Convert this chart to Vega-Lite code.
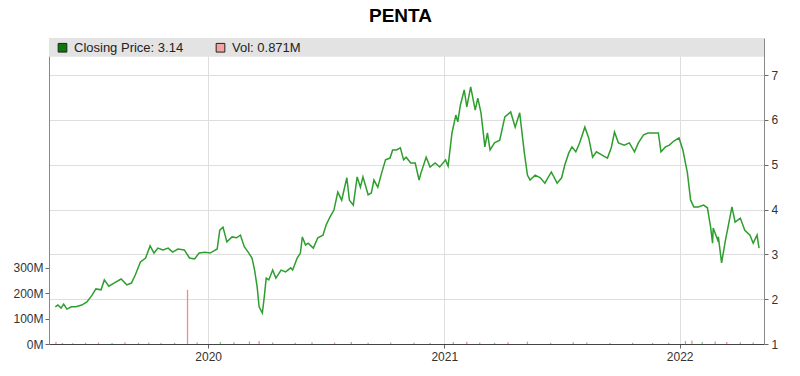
{
  "$schema": "https://vega.github.io/schema/vega-lite/v6.json",
  "width": 715,
  "height": 306,
  "autosize": {"type": "none"},
  "padding": {"left": 49, "top": 38, "right": 36, "bottom": 32},
  "background": "white",
  "title": {"text": "PENTA", "font": "Liberation Sans", "fontSize": 19, "fontWeight": "bold", "color": "#000", "anchor": "middle", "frame": "group", "offset": 12, "dx": -6},
  "config": {
    "view": {"stroke": null},
    "axis": {"labelFont": "Liberation Sans", "labelFontSize": 12, "labelColor": "#333", "domainColor": "#666", "tickColor": "#666", "tickSize": 4, "gridColor": "#dedede", "gridWidth": 1, "title": null}
  },
  "datasets": {
    "price": [
      {"date": "2019-05-09", "close": 1.83}, {"date": "2019-05-13", "close": 1.87}, {"date": "2019-05-18", "close": 1.80}, {"date": "2019-05-22", "close": 1.89}, {"date": "2019-05-27", "close": 1.78},
      {"date": "2019-06-03", "close": 1.83}, {"date": "2019-06-10", "close": 1.83}, {"date": "2019-06-19", "close": 1.87}, {"date": "2019-06-27", "close": 1.94}, {"date": "2019-07-05", "close": 2.09},
      {"date": "2019-07-11", "close": 2.23}, {"date": "2019-07-19", "close": 2.21}, {"date": "2019-07-24", "close": 2.43}, {"date": "2019-07-31", "close": 2.29}, {"date": "2019-08-08", "close": 2.36},
      {"date": "2019-08-19", "close": 2.45}, {"date": "2019-08-28", "close": 2.32}, {"date": "2019-09-04", "close": 2.36}, {"date": "2019-09-10", "close": 2.54}, {"date": "2019-09-18", "close": 2.83},
      {"date": "2019-09-26", "close": 2.92}, {"date": "2019-10-03", "close": 3.19}, {"date": "2019-10-09", "close": 3.03}, {"date": "2019-10-15", "close": 3.14}, {"date": "2019-10-23", "close": 3.10},
      {"date": "2019-10-31", "close": 3.14}, {"date": "2019-11-07", "close": 3.05}, {"date": "2019-11-15", "close": 3.12}, {"date": "2019-11-25", "close": 3.10}, {"date": "2019-12-03", "close": 2.92},
      {"date": "2019-12-11", "close": 2.90}, {"date": "2019-12-18", "close": 3.03}, {"date": "2019-12-27", "close": 3.05}, {"date": "2020-01-04", "close": 3.03}, {"date": "2020-01-15", "close": 3.12},
      {"date": "2020-01-19", "close": 3.54}, {"date": "2020-01-24", "close": 3.61}, {"date": "2020-01-30", "close": 3.28}, {"date": "2020-02-07", "close": 3.39}, {"date": "2020-02-14", "close": 3.37},
      {"date": "2020-02-20", "close": 3.43}, {"date": "2020-02-26", "close": 3.17}, {"date": "2020-03-03", "close": 3.05}, {"date": "2020-03-09", "close": 2.92}, {"date": "2020-03-13", "close": 2.65},
      {"date": "2020-03-17", "close": 2.27}, {"date": "2020-03-20", "close": 1.83}, {"date": "2020-03-25", "close": 1.69}, {"date": "2020-03-28", "close": 2.05}, {"date": "2020-03-31", "close": 2.47},
      {"date": "2020-04-04", "close": 2.43}, {"date": "2020-04-10", "close": 2.65}, {"date": "2020-04-15", "close": 2.47}, {"date": "2020-04-23", "close": 2.65}, {"date": "2020-04-30", "close": 2.61},
      {"date": "2020-05-08", "close": 2.70}, {"date": "2020-05-11", "close": 2.65}, {"date": "2020-05-18", "close": 2.92}, {"date": "2020-05-23", "close": 3.03}, {"date": "2020-05-26", "close": 3.39},
      {"date": "2020-05-31", "close": 3.21}, {"date": "2020-06-04", "close": 3.25}, {"date": "2020-06-12", "close": 3.14}, {"date": "2020-06-19", "close": 3.37}, {"date": "2020-06-27", "close": 3.43},
      {"date": "2020-07-02", "close": 3.66}, {"date": "2020-07-08", "close": 3.84}, {"date": "2020-07-14", "close": 3.99}, {"date": "2020-07-20", "close": 4.39}, {"date": "2020-07-26", "close": 4.21},
      {"date": "2020-08-03", "close": 4.71}, {"date": "2020-08-07", "close": 4.21}, {"date": "2020-08-13", "close": 4.10}, {"date": "2020-08-19", "close": 4.73}, {"date": "2020-08-24", "close": 4.50},
      {"date": "2020-08-28", "close": 4.73}, {"date": "2020-09-05", "close": 4.33}, {"date": "2020-09-10", "close": 4.37}, {"date": "2020-09-14", "close": 4.66}, {"date": "2020-09-20", "close": 4.50},
      {"date": "2020-09-26", "close": 4.82}, {"date": "2020-10-02", "close": 5.11}, {"date": "2020-10-09", "close": 5.15}, {"date": "2020-10-13", "close": 5.33}, {"date": "2020-10-19", "close": 5.33},
      {"date": "2020-10-25", "close": 5.38}, {"date": "2020-10-30", "close": 5.11}, {"date": "2020-11-03", "close": 5.17}, {"date": "2020-11-10", "close": 5.04}, {"date": "2020-11-17", "close": 5.04},
      {"date": "2020-11-23", "close": 4.66}, {"date": "2020-11-26", "close": 4.82}, {"date": "2020-12-04", "close": 5.17}, {"date": "2020-12-10", "close": 4.95}, {"date": "2020-12-18", "close": 5.04},
      {"date": "2020-12-25", "close": 4.95}, {"date": "2021-01-03", "close": 5.11}, {"date": "2021-01-07", "close": 4.97}, {"date": "2021-01-13", "close": 5.71}, {"date": "2021-01-19", "close": 6.11},
      {"date": "2021-01-22", "close": 5.96}, {"date": "2021-01-26", "close": 6.33}, {"date": "2021-02-01", "close": 6.67}, {"date": "2021-02-05", "close": 6.29}, {"date": "2021-02-11", "close": 6.74},
      {"date": "2021-02-18", "close": 6.22}, {"date": "2021-02-22", "close": 6.49}, {"date": "2021-02-27", "close": 6.16}, {"date": "2021-03-05", "close": 5.40}, {"date": "2021-03-09", "close": 5.71},
      {"date": "2021-03-13", "close": 5.33}, {"date": "2021-03-20", "close": 5.49}, {"date": "2021-03-28", "close": 5.55}, {"date": "2021-04-05", "close": 6.07}, {"date": "2021-04-14", "close": 6.18},
      {"date": "2021-04-21", "close": 5.84}, {"date": "2021-04-28", "close": 6.16}, {"date": "2021-05-05", "close": 5.29}, {"date": "2021-05-10", "close": 4.77}, {"date": "2021-05-14", "close": 4.66},
      {"date": "2021-05-22", "close": 4.77}, {"date": "2021-05-30", "close": 4.71}, {"date": "2021-06-06", "close": 4.59}, {"date": "2021-06-16", "close": 4.84}, {"date": "2021-06-25", "close": 4.59},
      {"date": "2021-07-02", "close": 4.71}, {"date": "2021-07-07", "close": 5.00}, {"date": "2021-07-13", "close": 5.26}, {"date": "2021-07-18", "close": 5.40}, {"date": "2021-07-24", "close": 5.29},
      {"date": "2021-07-30", "close": 5.49}, {"date": "2021-08-07", "close": 5.84}, {"date": "2021-08-13", "close": 5.60}, {"date": "2021-08-19", "close": 5.17}, {"date": "2021-08-25", "close": 5.29},
      {"date": "2021-09-02", "close": 5.22}, {"date": "2021-09-11", "close": 5.15}, {"date": "2021-09-17", "close": 5.38}, {"date": "2021-09-22", "close": 5.73}, {"date": "2021-09-28", "close": 5.49},
      {"date": "2021-10-07", "close": 5.44}, {"date": "2021-10-15", "close": 5.49}, {"date": "2021-10-23", "close": 5.29}, {"date": "2021-10-29", "close": 5.49}, {"date": "2021-11-06", "close": 5.67},
      {"date": "2021-11-13", "close": 5.71}, {"date": "2021-11-21", "close": 5.71}, {"date": "2021-11-29", "close": 5.71}, {"date": "2021-12-03", "close": 5.29}, {"date": "2021-12-10", "close": 5.40},
      {"date": "2021-12-16", "close": 5.44}, {"date": "2021-12-23", "close": 5.53}, {"date": "2021-12-31", "close": 5.60}, {"date": "2022-01-06", "close": 5.33}, {"date": "2022-01-13", "close": 4.82},
      {"date": "2022-01-18", "close": 4.21}, {"date": "2022-01-23", "close": 4.06}, {"date": "2022-01-30", "close": 4.06}, {"date": "2022-02-07", "close": 4.10}, {"date": "2022-02-13", "close": 4.04},
      {"date": "2022-02-18", "close": 3.61}, {"date": "2022-02-21", "close": 3.25}, {"date": "2022-02-22", "close": 3.59}, {"date": "2022-03-01", "close": 3.32}, {"date": "2022-03-02", "close": 3.39},
      {"date": "2022-03-07", "close": 2.81}, {"date": "2022-03-13", "close": 3.32}, {"date": "2022-03-17", "close": 3.61}, {"date": "2022-03-23", "close": 4.06}, {"date": "2022-03-28", "close": 3.72},
      {"date": "2022-04-05", "close": 3.81}, {"date": "2022-04-12", "close": 3.54}, {"date": "2022-04-20", "close": 3.43}, {"date": "2022-04-25", "close": 3.25}, {"date": "2022-05-01", "close": 3.43},
      {"date": "2022-05-04", "close": 3.14}
    ],
    "volume": [
      {"date": "2019-05-10", "vol": 8000000, "dir": "down"}, {"date": "2019-05-20", "vol": 4000000, "dir": "up"}, {"date": "2019-06-05", "vol": 3000000, "dir": "down"},
      {"date": "2019-06-25", "vol": 5000000, "dir": "up"}, {"date": "2019-07-15", "vol": 6000000, "dir": "down"}, {"date": "2019-08-05", "vol": 4000000, "dir": "up"},
      {"date": "2019-08-25", "vol": 7000000, "dir": "down"}, {"date": "2019-09-15", "vol": 5000000, "dir": "up"}, {"date": "2019-10-01", "vol": 6000000, "dir": "up"},
      {"date": "2019-10-20", "vol": 4000000, "dir": "down"}, {"date": "2019-11-10", "vol": 5000000, "dir": "up"}, {"date": "2019-11-30", "vol": 213000000, "dir": "down"},
      {"date": "2019-12-15", "vol": 6000000, "dir": "down"}, {"date": "2020-01-20", "vol": 8000000, "dir": "up"}, {"date": "2020-02-10", "vol": 7000000, "dir": "down"},
      {"date": "2020-03-05", "vol": 10000000, "dir": "down"}, {"date": "2020-03-20", "vol": 12000000, "dir": "down"}, {"date": "2020-04-10", "vol": 6000000, "dir": "up"},
      {"date": "2020-05-15", "vol": 5000000, "dir": "down"}, {"date": "2020-06-10", "vol": 7000000, "dir": "up"}, {"date": "2020-07-15", "vol": 6000000, "dir": "down"},
      {"date": "2020-08-10", "vol": 8000000, "dir": "up"}, {"date": "2020-09-05", "vol": 5000000, "dir": "down"}, {"date": "2020-10-10", "vol": 6000000, "dir": "up"},
      {"date": "2020-11-15", "vol": 5000000, "dir": "down"}, {"date": "2020-12-10", "vol": 4000000, "dir": "up"}, {"date": "2021-01-15", "vol": 8000000, "dir": "up"},
      {"date": "2021-02-05", "vol": 9000000, "dir": "down"}, {"date": "2021-02-25", "vol": 6000000, "dir": "down"}, {"date": "2021-03-20", "vol": 5000000, "dir": "up"},
      {"date": "2021-04-10", "vol": 7000000, "dir": "down"}, {"date": "2021-05-10", "vol": 9000000, "dir": "down"}, {"date": "2021-06-15", "vol": 5000000, "dir": "up"},
      {"date": "2021-07-20", "vol": 7000000, "dir": "down"}, {"date": "2021-08-10", "vol": 6000000, "dir": "up"}, {"date": "2021-09-15", "vol": 4000000, "dir": "down"},
      {"date": "2021-10-20", "vol": 5000000, "dir": "up"}, {"date": "2021-11-20", "vol": 4000000, "dir": "down"}, {"date": "2021-12-15", "vol": 5000000, "dir": "down"},
      {"date": "2022-01-10", "vol": 12000000, "dir": "down"}, {"date": "2022-01-20", "vol": 14000000, "dir": "down"}, {"date": "2022-02-05", "vol": 8000000, "dir": "up"},
      {"date": "2022-02-25", "vol": 10000000, "dir": "down"}, {"date": "2022-03-15", "vol": 8000000, "dir": "down"}, {"date": "2022-04-05", "vol": 7000000, "dir": "up"},
      {"date": "2022-04-25", "vol": 6000000, "dir": "down"}
    ],
    "legendItems": [
      {"series": "Closing Price: 3.14"},
      {"series": "Vol: 0.871M"}
    ]
  },
  "layer": [
    {
      "layer": [
        {
          "data": {"values": [{"band": "legend"}]},
          "mark": {"type": "rect", "color": "#e3e3e3"},
          "encoding": {
            "y": {"datum": 7.83, "type": "quantitative"},
            "y2": {"datum": 7.41}
          }
        },
        {
          "data": {"name": "price"},
          "mark": {"type": "line", "color": "#2e9e2e", "strokeWidth": 1.5},
          "encoding": {
            "x": {
              "field": "date", "type": "temporal",
              "scale": {"domain": [{"year": 2019, "month": 5, "date": 7, "utc": true}, {"year": 2022, "month": 5, "date": 4, "utc": true}]},
              "axis": {"values": [{"year": 2020, "month": 1, "date": 1, "utc": true}, {"year": 2021, "month": 1, "date": 1, "utc": true}, {"year": 2022, "month": 1, "date": 1, "utc": true}], "format": "%Y", "grid": true, "labelPadding": 3, "domainColor": "#444"}
            },
            "y": {
              "field": "close", "type": "quantitative",
              "scale": {"domain": [1, 7.83], "nice": false, "zero": false},
              "axis": {"orient": "right", "values": [1, 2, 3, 4, 5, 6, 7], "grid": true, "labelPadding": 3, "domainColor": "#888"}
            }
          }
        },
        {
          "data": {"name": "legendItems"},
          "mark": {"type": "point", "shape": "square", "filled": true, "size": 0},
          "encoding": {
            "color": {
              "field": "series", "type": "nominal",
              "scale": {"domain": ["Closing Price: 3.14", "Vol: 0.871M"], "range": ["#0b7a0b", "#f4a3a3"]},
              "legend": {"orient": "none", "legendX": 7, "legendY": 3, "direction": "horizontal", "title": null, "symbolType": "square", "symbolSize": 75, "symbolStrokeColor": "#222", "symbolStrokeWidth": 1, "symbolOpacity": 1, "labelFont": "Liberation Sans", "labelFontSize": 13, "labelColor": "#222", "columnPadding": 30, "labelOffset": 5}
            }
          }
        }
      ]
    },
    {
      "layer": [
        {
          "data": {"name": "volume"},
          "transform": [{"filter": "datum.dir == 'down'"}],
          "mark": {"type": "bar", "color": "#f28a8a", "width": 1.3},
          "encoding": {
            "x": {"field": "date", "type": "temporal"},
            "y": {
              "field": "vol", "type": "quantitative",
              "scale": {"domain": [0, 1205000000], "nice": false},
              "axis": {"orient": "left", "values": [0, 100000000, 200000000, 300000000], "labelExpr": "(datum.value / 1000000) + 'M'", "grid": false, "labelPadding": 2, "domainColor": "#888"}
            }
          }
        },
        {
          "data": {"name": "volume"},
          "transform": [{"filter": "datum.dir == 'up'"}],
          "mark": {"type": "bar", "color": "#7fc97f", "width": 1.3},
          "encoding": {
            "x": {"field": "date", "type": "temporal"},
            "y": {"field": "vol", "type": "quantitative"}
          }
        }
      ]
    }
  ],
  "resolve": {"scale": {"y": "independent"}, "axis": {"y": "independent"}}
}
